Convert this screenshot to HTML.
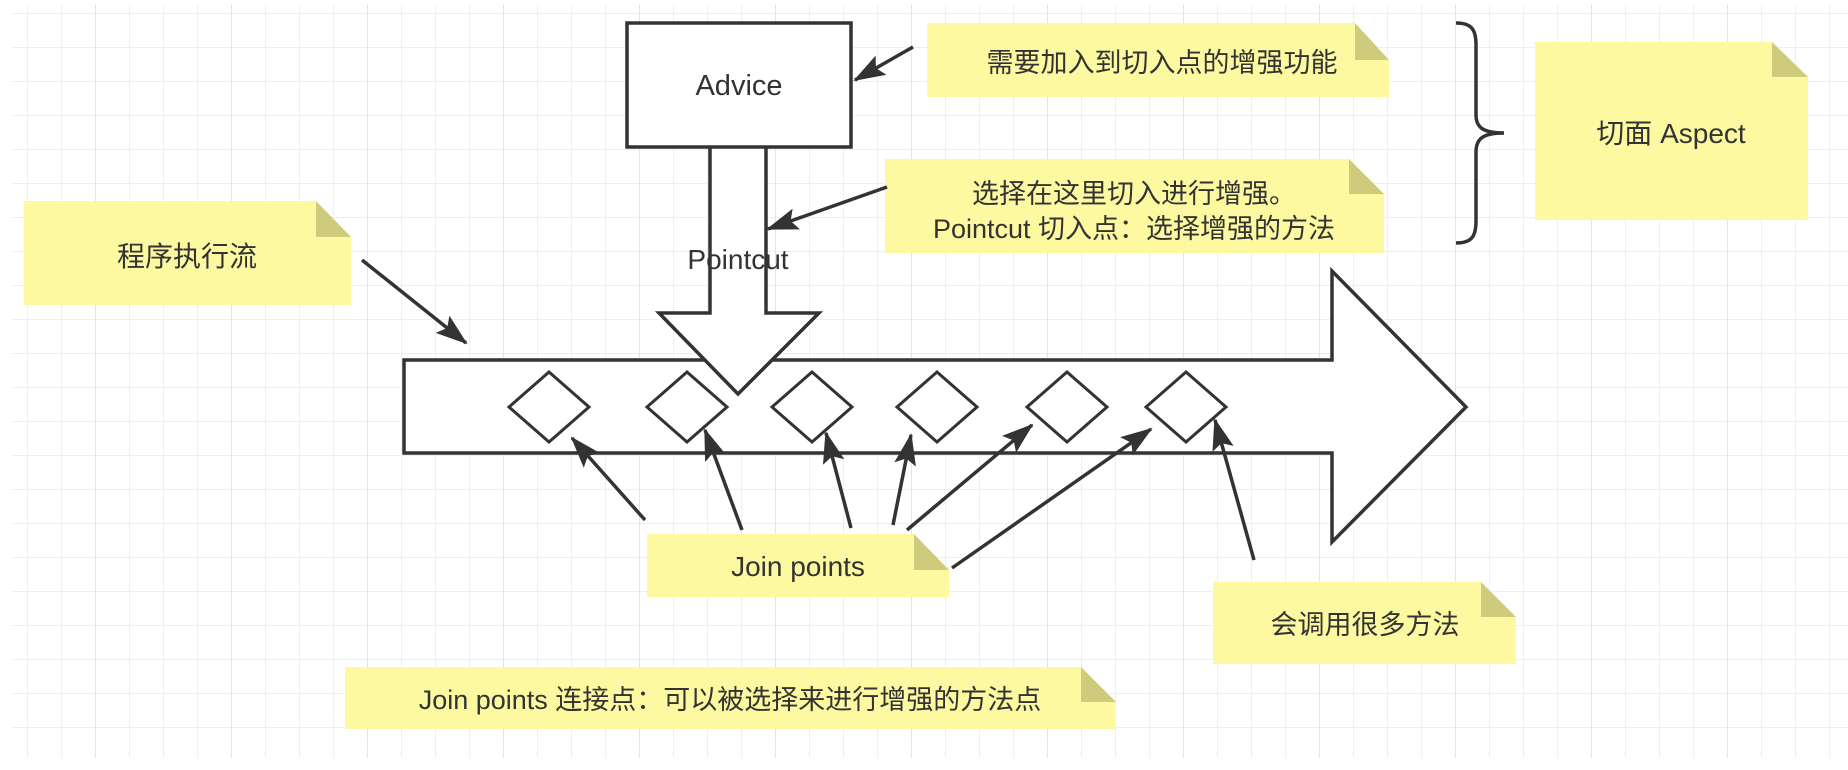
<!DOCTYPE html>
<html><head><meta charset="utf-8"><style>
html,body{margin:0;padding:0;background:#fff;}
svg{display:block;}
text{font-family:"Liberation Sans","Noto Sans CJK SC",sans-serif;fill:#333;}
</style></head><body>
<svg width="1848" height="770" viewBox="0 0 1848 770" xmlns="http://www.w3.org/2000/svg">
<defs>
<pattern id="g" x="27" y="13" width="34" height="34" patternUnits="userSpaceOnUse">
<path d="M0 0V34M0 0H34" stroke="#efefef" stroke-width="2" fill="none"/>
</pattern>
<pattern id="G" x="95" y="13" width="136" height="136" patternUnits="userSpaceOnUse">
<path d="M0 0V136" stroke="#e4e4e4" stroke-width="2" fill="none"/>
</pattern>
<marker id="a" markerUnits="userSpaceOnUse" markerWidth="32" markerHeight="22" refX="30" refY="11" orient="auto">
<path d="M0 0L32 11L0 22L6 11Z" fill="#333"/>
</marker>
</defs>
<rect x="12" y="5" width="1836" height="753" fill="url(#g)"/>
<rect x="12" y="5" width="1836" height="753" fill="url(#G)"/>

<path d="M404 360H1332V271L1466 407L1332 542V453H404Z" fill="#fff" stroke="#333" stroke-width="3.5"/>
<g fill="#fff" stroke="#333" stroke-width="3">
<path d="M509 407L549 372L589 407L549 442Z"/>
<path d="M647 407L687 372L727 407L687 442Z"/>
<path d="M772 407L812 372L852 407L812 442Z"/>
<path d="M897 407L937 372L977 407L937 442Z"/>
<path d="M1027 407L1067 372L1107 407L1067 442Z"/>
<path d="M1146 407L1186 372L1226 407L1186 442Z"/>
</g>
<path d="M710 147V313H659L738 394L819 313H766V147" fill="#fff" stroke="#333" stroke-width="3.5" stroke-linejoin="miter"/>
<rect x="627" y="23" width="224" height="124" fill="#fff" stroke="#333" stroke-width="3.5"/>
<text x="739" y="95" font-size="29" text-anchor="middle">Advice</text>
<text x="738" y="269" font-size="28" text-anchor="middle">Pointcut</text>

<g>
<path d="M927 23H1355L1389 60V97H927Z" fill="#fcf9a1"/><path d="M1355 23L1389 60H1355Z" fill="#cfcb7c"/>
<text x="1162" y="72" font-size="27" text-anchor="middle">需要加入到切入点的增强功能</text>

<path d="M885 159H1349L1384 194V253H885Z" fill="#fcf9a1"/><path d="M1349 159L1384 194H1349Z" fill="#cfcb7c"/>
<text x="1134" y="203" font-size="27" text-anchor="middle">选择在这里切入进行增强。</text>
<text x="1134" y="238" font-size="27" text-anchor="middle">Pointcut 切入点：选择增强的方法</text>

<path d="M24 201H316L351 237V305H24Z" fill="#fcf9a1"/><path d="M316 201L351 237H316Z" fill="#cfcb7c"/>
<text x="187" y="266" font-size="28" text-anchor="middle">程序执行流</text>

<path d="M1535 42H1772L1808 77V220H1535Z" fill="#fcf9a1"/><path d="M1772 42L1808 77H1772Z" fill="#cfcb7c"/>
<text x="1671" y="143" font-size="28" text-anchor="middle">切面 Aspect</text>

<path d="M647 534H914L949 570V597H647Z" fill="#fcf9a1"/><path d="M914 534L949 570H914Z" fill="#cfcb7c"/>
<text x="798" y="576" font-size="28" text-anchor="middle">Join points</text>

<path d="M1213 582H1481L1516 617V664H1213Z" fill="#fcf9a1"/><path d="M1481 582L1516 617H1481Z" fill="#cfcb7c"/>
<text x="1365" y="634" font-size="27" text-anchor="middle">会调用很多方法</text>

<path d="M345 667H1081L1116 702V729H345Z" fill="#fcf9a1"/><path d="M1081 667L1116 702H1081Z" fill="#cfcb7c"/>
<text x="730" y="709" font-size="27" text-anchor="middle">Join points 连接点：可以被选择来进行增强的方法点</text>
</g>

<path d="M1456 23C1472 23 1476 30 1476 45V115C1476 128 1484 133 1504 133C1484 133 1476 138 1476 152V221C1476 236 1472 243 1456 243" fill="none" stroke="#333" stroke-width="3.5"/>

<g stroke="#333" stroke-width="3.5" fill="none" marker-end="url(#a)">
<path d="M913 47L855 80"/>
<path d="M887 187L768 229"/>
<path d="M362 260L466 343"/>
<path d="M645 520L572 438"/>
<path d="M742 530L705 430"/>
<path d="M851 528L826 433"/>
<path d="M893 525L911 435"/>
<path d="M907 530L1032 425"/>
<path d="M952 568L1151 429"/>
<path d="M1254 560L1215 420"/>
</g>
</svg>
</body></html>
